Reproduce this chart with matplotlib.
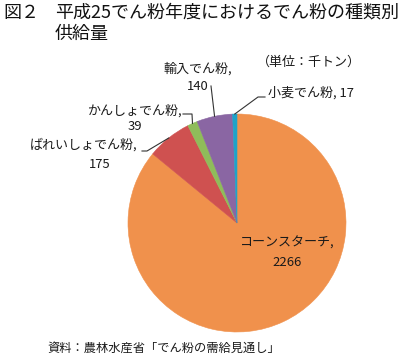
import numpy as np
import matplotlib
matplotlib.use("Agg")
import matplotlib.pyplot as plt

plt.rcParams['font.family'] = ['Noto Sans CJK JP', 'DejaVu Sans']

# Data (unit: thousand tonnes), clockwise from 12 o'clock
categories = ["コーンスターチ", "ばれいしょでん粉", "かんしょでん粉", "輸入でん粉", "小麦でん粉"]
values = [2266, 175, 39, 140, 17]
colors = ["#F0914C", "#CF5150", "#8FBC5A", "#8A66A3", "#1EA3C8"]

title_prefix = "図２"
title_line1 = "平成25でん粉年度におけるでん粉の種類別"
title_line2 = "供給量"
unit_text = "（単位：千トン）"
source_text = "資料：農林水産省「でん粉の需給見通し」"

W, H = 400, 357
fig = plt.figure(figsize=(W / 100, H / 100), dpi=100)
ax = fig.add_axes([0, 0, 1, 1])

def Y(y):
    return H - y

cx, cy, R = 237, Y(223), 109
wedges, _ = ax.pie(values, colors=colors, startangle=90, counterclock=False,
                   center=(cx, cy), radius=R,
                   wedgeprops=dict(linewidth=0.4))
for w, c in zip(wedges, colors):
    w.set_edgecolor(c)
ax.set_xlim(0, W)
ax.set_ylim(0, H)
ax.set_aspect('equal')
ax.axis('off')

def edge_point(w):
    ang = np.deg2rad((w.theta1 + w.theta2) / 2)
    return cx + R * np.cos(ang), cy + R * np.sin(ang)

fs = 9.4
tc = "#1a1a1a"
lc = "#333333"

# コーンスターチ (inside)
ax.text(287, Y(243), categories[0] + ",", fontsize=fs, color=tc, ha="center", va="center")
ax.text(287, Y(262), str(values[0]), fontsize=fs, color=tc, ha="center", va="center")

# ばれいしょでん粉
ax.text(137, Y(145), categories[1] + ",", fontsize=fs, color=tc, ha="right", va="center")
ax.text(100, Y(165), str(values[1]), fontsize=fs, color=tc, ha="center", va="center")
ex, ey = edge_point(wedges[1])
ax.plot([ex, 147, 142], [ey, Y(151), Y(151)], color=lc, lw=0.8)

# かんしょでん粉
ax.text(182, Y(111), categories[2] + ",", fontsize=fs, color=tc, ha="right", va="center")
ax.text(135, Y(127), str(values[2]), fontsize=fs, color=tc, ha="center", va="center")
ex, ey = edge_point(wedges[2])
ax.plot([ex, 192, 183], [ey, Y(114), Y(114)], color=lc, lw=0.8)

# 輸入でん粉
ax.text(198, Y(69), categories[3] + ",", fontsize=fs, color=tc, ha="center", va="center")
ax.text(198, Y(86), str(values[3]), fontsize=fs, color=tc, ha="center", va="center")
ex, ey = edge_point(wedges[3])
ax.plot([ex, 211], [ey, Y(86)], color=lc, lw=0.8)

# 小麦でん粉
ax.text(268, Y(93), f"{categories[4]}, {values[4]}", fontsize=fs, color=tc, ha="left", va="center")
ex, ey = edge_point(wedges[4])
ax.plot([ex, 258, 265], [ey, Y(97), Y(97)], color=lc, lw=0.8)

# unit
ax.text(257, Y(62), unit_text, fontsize=fs, color=tc, ha="left", va="center")

# title
ax.text(3, Y(13), title_prefix, fontsize=13, color="#111111", ha="left", va="center")
ax.text(55, Y(13), title_line1, fontsize=13, color="#111111", ha="left", va="center")
ax.text(55, Y(34), title_line2, fontsize=13, color="#111111", ha="left", va="center")

# source
ax.text(47, Y(348), source_text, fontsize=8.8, color=tc, ha="left", va="center")

fig.savefig("out.png", dpi=100, facecolor="white")
